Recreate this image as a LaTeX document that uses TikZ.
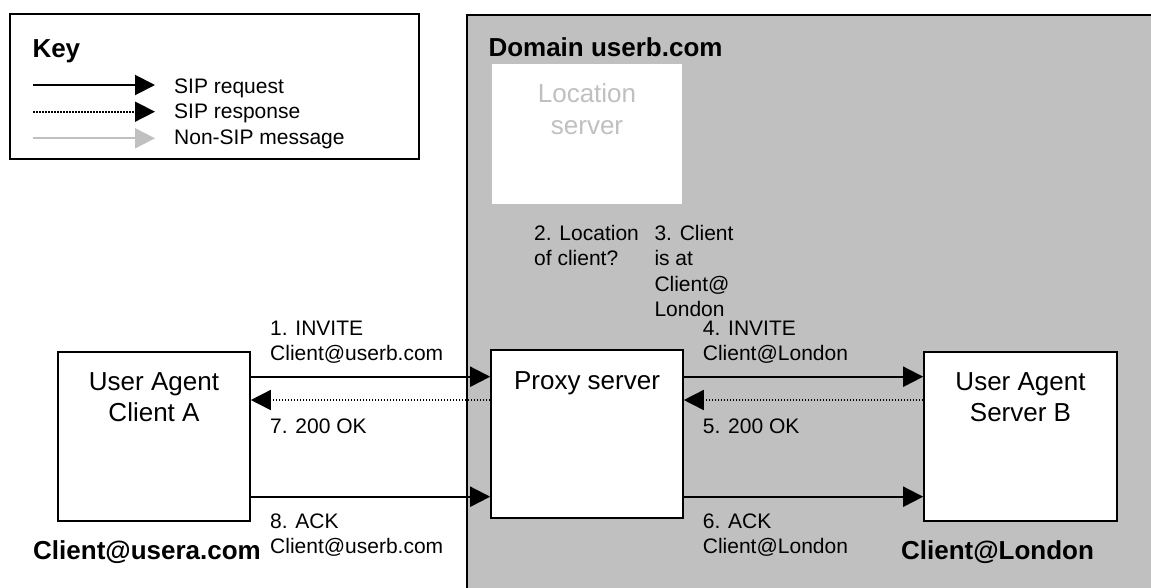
\documentclass[tikz,border=0pt]{standalone}
\usepackage{fontspec}
\setmainfont{Liberation Sans}
\usetikzlibrary{arrows.meta}
\definecolor{domgray}{HTML}{C0C0C0}
\begin{document}
\begin{tikzpicture}[x=1pt,y=-1pt,
  box/.style={draw,line width=1.6pt,fill=white,inner sep=0pt},
  lbl/.style={anchor=north west,inner sep=0pt,align=left,font=\fontsize{21}{25.5}\selectfont},
  boxtext/.style={anchor=north,inner sep=0pt,align=center,font=\fontsize{26}{31}\selectfont},
  boldtext/.style={inner sep=0pt,font=\fontsize{26}{31}\selectfont\bfseries},
  req/.style={line width=2pt,-{Triangle[length=20pt,width=20pt]}},
  resp/.style={line width=1.6pt,dash pattern=on 1.5pt off 1.5pt,-{Triangle[length=20pt,width=20pt]}},
  nonsip/.style={line width=2pt,draw=domgray,-{Triangle[length=20pt,width=20pt,fill=domgray]}}]
\useasboundingbox (0,0) rectangle (1151,587);
\clip (0,0) rectangle (1151,587);
% domain region
\fill[domgray] (467,14.5) rectangle (1170,600);
\draw[line width=2pt] (467,600) -- (467,14.5) -- (1170,14.5);
\node[boldtext,anchor=north west] (dom) at (488.3,37.3) {Domain userb.com};
% key
\node[box,minimum width=409pt,minimum height=145pt] (key) at (214.5,86.5) {};
\node[boldtext,anchor=north west] (keyt) at (32.3,39.3) {Key};
\coordinate (k1s) at (33,85);    \coordinate (k1e) at (155,85);
\coordinate (k2s) at (33,111.7); \coordinate (k2e) at (155,111.7);
\coordinate (k3s) at (33,138.3); \coordinate (k3e) at (155,138.3);
\draw[req] (k1s) -- (k1e);
\draw[resp] (k2s) -- (k2e);
\draw[nonsip] (k3s) -- (k3e);
\node[lbl] (kt1) at (174,78.3) {SIP request};
\node[lbl] (kt2) at (174,103.3) {SIP response};
\node[lbl] (kt3) at (174,130) {Non-SIP message};
% location server
\node[fill=white,inner sep=0pt,minimum width=190pt,minimum height=140pt] (loc) at (587,134) {};
\node[boxtext,text=domgray,font=\fontsize{26}{32}\selectfont] (loct) at (587,83.3) {Location\\server};
% main boxes
\node[box,minimum width=192pt,minimum height=169pt] (ca) at (154,436.5) {};
\node[boxtext] (cat) at (154,372.7) {User Agent\\Client A};
\node[box,minimum width=192pt,minimum height=168pt] (px) at (587,434) {};
\node[boxtext] (pxt) at (587,371.7) {Proxy server};
\node[box,minimum width=193pt,minimum height=169pt] (sb) at (1020.5,436.5) {};
\node[boxtext] (sbt) at (1020.5,372.7) {User Agent\\Server B};
% levels
\coordinate (yreq) at (0,376.7);
\coordinate (yresp) at (0,400);
\coordinate (yack) at (0,496.7);
% connectors
\draw[req] (ca.east |- yreq) -- (px.west |- yreq);
\draw[req] (px.east |- yreq) -- (sb.west |- yreq);
\draw[resp] (sb.west |- yresp) -- (px.east |- yresp);
\draw[resp] (px.west |- yresp) -- (ca.east |- yresp);
\draw[req] (ca.east |- yack) -- (px.west |- yack);
\draw[req] (px.east |- yack) -- (sb.west |- yack);
% labels
\node[lbl] (l1) at (270,320.7) {1. INVITE\\Client@userb.com};
\node[lbl] (l7) at (270,418.3) {7. 200 OK};
\node[lbl] (l8) at (270,513.3) {8. ACK\\Client@userb.com};
\node[lbl] (l4) at (702.7,320.7) {4. INVITE\\Client@London};
\node[lbl] (l5) at (702.7,418.3) {5. 200 OK};
\node[lbl] (l6) at (702.7,513.3) {6. ACK\\Client@London};
\node[lbl] (l2) at (534,225) {2. Location\\of client?};
\node[lbl] (l3) at (654.3,225) {3. Client\\is at\\Client@\\London};
% addresses
\node[boldtext,anchor=north] (adda) at (147,540.7) {Client@usera.com};
\node[boldtext,anchor=north] (addb) at (997.5,540.7) {Client@London};
\end{tikzpicture}
\end{document}
